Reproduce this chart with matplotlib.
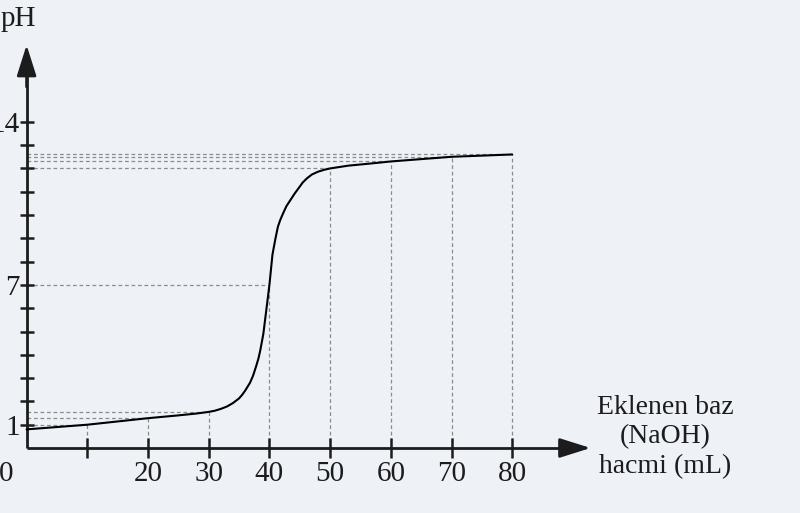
import matplotlib
matplotlib.use("Agg")
import matplotlib.pyplot as plt
from matplotlib.ticker import FixedLocator, NullFormatter

# ---- data ----
volume_ml = [0, 5, 10, 15, 20, 25, 28, 30, 31, 32, 33, 34, 35, 35.5, 36, 36.8,
             37.3, 37.8, 38.2, 38.5, 39.0, 39.5, 40.0, 40.5, 41.0, 41.4, 41.8,
             42.3, 42.8, 43.4, 44.1, 44.8, 45.5, 46.2, 47, 48, 49, 50, 53, 57,
             60, 65, 70, 75, 80]
ph_values = [0.8, 0.9, 1.0, 1.14, 1.28, 1.4, 1.48, 1.55, 1.6, 1.68, 1.78, 1.93,
             2.13, 2.28, 2.46, 2.8, 3.1, 3.5, 3.85, 4.2, 4.9, 5.95, 7.0, 8.3,
             9.0, 9.5, 9.8, 10.1, 10.38, 10.62, 10.9, 11.15, 11.4, 11.58, 11.74,
             11.86, 11.94, 12.0, 12.12, 12.22, 12.3, 12.4, 12.5, 12.55, 12.6]

guide_volume = [10, 20, 30, 40, 50, 60, 70, 80]
guide_ph = [1.0, 1.28, 1.55, 7.0, 12.0, 12.3, 12.5, 12.6]

x_tick_values = [20, 30, 40, 50, 60, 70, 80]
x_tick_labels = ["20", "30", "40", "50", "60", "70", "80"]
x_minor_ticks = [10]
y_tick_values = [1, 7, 14]
y_tick_labels = ["1", "7", "14"]
y_minor_ticks = [2, 3, 4, 5, 6, 8, 9, 10, 11, 12, 13]

x_axis_title = "Eklenen baz\n(NaOH)\nhacmi (mL)"
y_axis_title = "pH"
origin_label = "0"

# ---- style ----
bg = "#eef2f7"
ink = "#1c1c1c"
guide_color = "#8c8c8c"
font = "Liberation Serif"
plt.rcParams["font.family"] = [font, "DejaVu Serif"]
tick_fs = 21
title_fs = 20

fig = plt.figure(figsize=(8.0, 5.13), dpi=100, facecolor=bg)
ax = fig.add_axes([0, 0, 1, 1], facecolor=bg)
ax.set_xlim(-4.38, 127.4)
ax.set_ylim(-2.79, 19.23)

for s in ["top", "right"]:
    ax.spines[s].set_visible(False)
ax.spines["left"].set_position(("data", 0))
ax.spines["bottom"].set_position(("data", 0))
ax.spines["left"].set_bounds(0, 16.5)
ax.spines["bottom"].set_bounds(0, 89.5)
for s in ["left", "bottom"]:
    ax.spines[s].set_linewidth(2.0)
    ax.spines[s].set_color(ink)
    ax.spines[s].set_capstyle("butt")

arrow_style = "-|>,head_length=1.9,head_width=0.6"
ax.annotate("", xy=(0, 17.3), xytext=(0, 15.5),
            arrowprops=dict(arrowstyle=arrow_style, color=ink, lw=2.0,
                            shrinkA=0, shrinkB=0),
            annotation_clip=False)
ax.annotate("", xy=(92.9, 0), xytext=(88.0, 0),
            arrowprops=dict(arrowstyle=arrow_style, color=ink, lw=2.0,
                            shrinkA=0, shrinkB=0),
            annotation_clip=False)

ax.xaxis.set_major_locator(FixedLocator(x_tick_values))
ax.set_xticklabels(x_tick_labels)
ax.xaxis.set_minor_locator(FixedLocator(x_minor_ticks))
ax.xaxis.set_minor_formatter(NullFormatter())
ax.yaxis.set_major_locator(FixedLocator(y_tick_values))
ax.set_yticklabels(y_tick_labels)
ax.yaxis.set_minor_locator(FixedLocator(y_minor_ticks))
ax.yaxis.set_minor_formatter(NullFormatter())

ax.tick_params(axis="x", which="both", direction="inout", length=15, width=1.8,
               color=ink, labelsize=tick_fs, labelcolor=ink, pad=2)
ax.tick_params(axis="y", which="both", direction="inout", length=10, width=1.8,
               color=ink, labelsize=tick_fs, labelcolor=ink, pad=0)

for gx, gy in zip(guide_volume, guide_ph):
    ax.plot([gx, gx], [0, gy], color=guide_color, lw=0.9, dashes=(3, 2.2), zorder=1)
    ax.plot([0, gx], [gy, gy], color=guide_color, lw=0.9, dashes=(3, 2.2), zorder=1)

ax.plot(volume_ml, ph_values, color="black", lw=1.5, zorder=3,
        solid_joinstyle="round", solid_capstyle="round")

ax.text(-3.3, -1.1, origin_label, ha="center", va="center", fontsize=tick_fs, color=ink)
ax.text(1.5, 18.4, y_axis_title, ha="right", va="center", fontsize=tick_fs, color=ink)
ax.text(105.2, 0.47, x_axis_title, ha="center", va="center", fontsize=title_fs,
        color=ink, linespacing=1.22, multialignment="center")

fig.savefig("out.png", dpi=100, facecolor=bg)
